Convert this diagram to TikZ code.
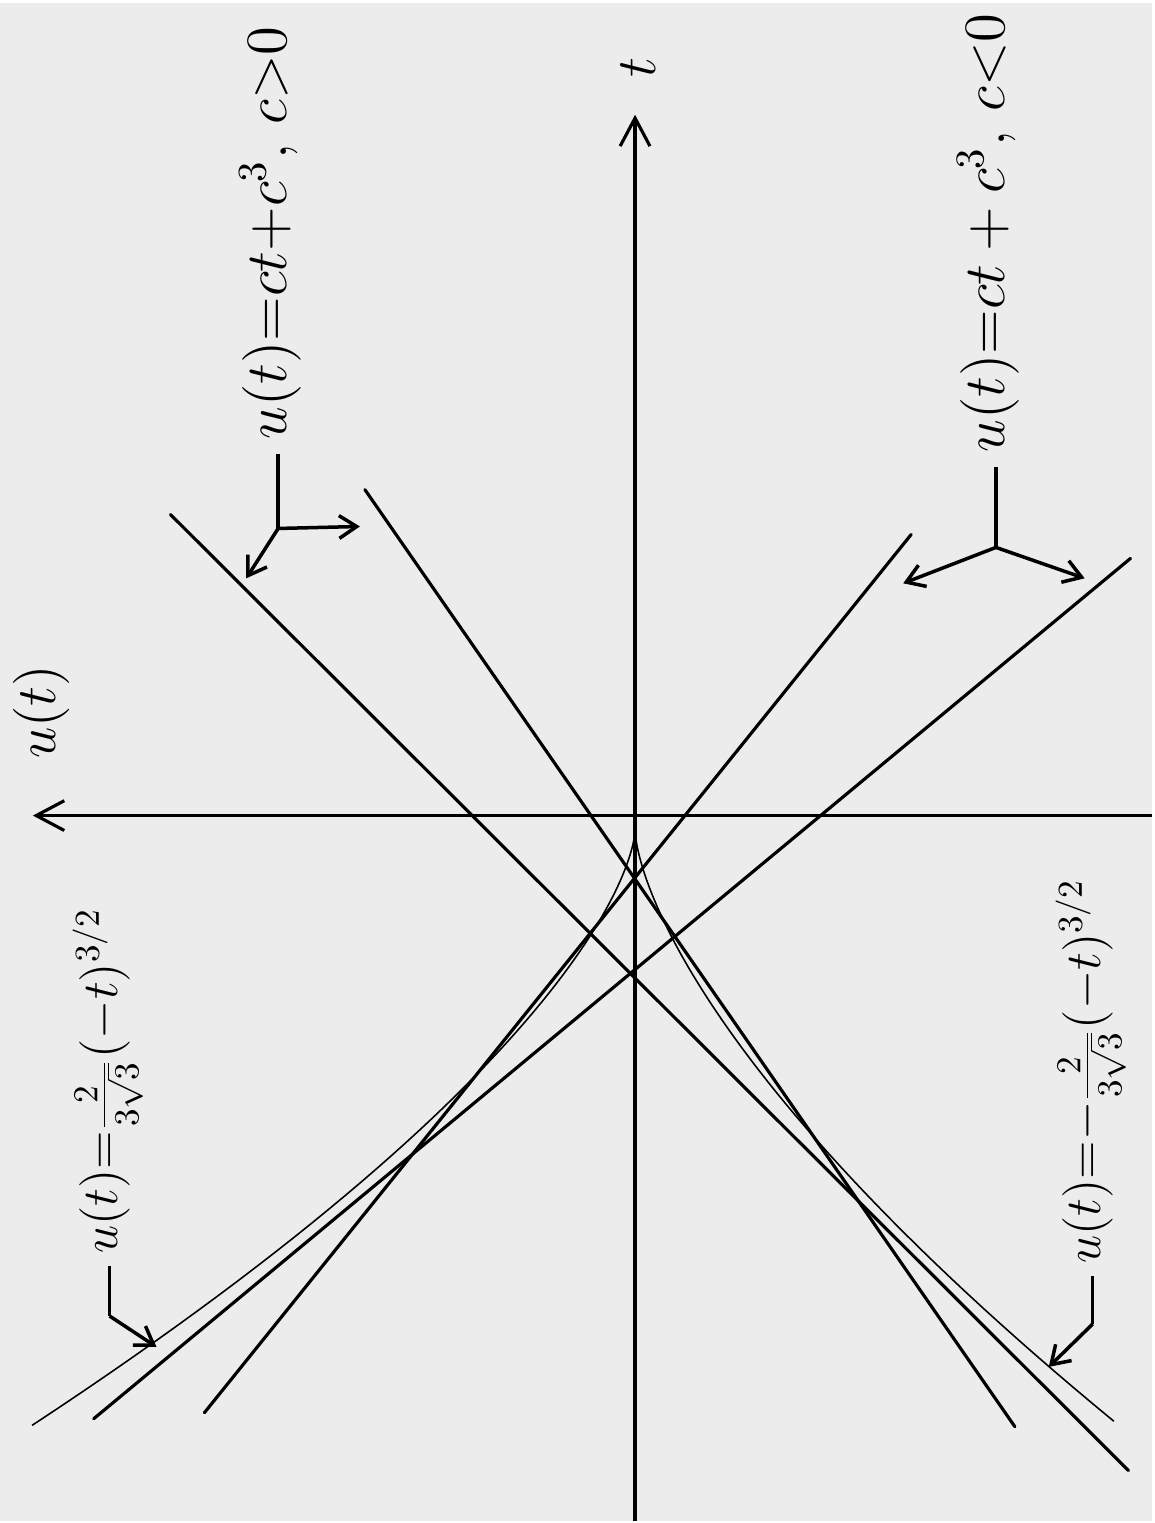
\documentclass[tikz,border=0pt]{standalone}
\usepackage{tkz-euclide}
\usetikzlibrary{arrows.meta,calc}
\definecolor{PaperClr}{rgb}{0.925,0.925,0.925}
\tikzset{
  lbl/.style={rotate=90,font=\Large,scale=1.16},
  lbls/.style={rotate=90,font=\Large},
  axis/.style={line width=0.9pt,-{Straight Barb[length=8pt,width=8.5pt]}},
  lead/.style={line width=1pt,-{Straight Barb[length=5pt,width=6.5pt]}},
  envl/.style={line width=0.45pt},
}

\begin{document}
\begin{tikzpicture}
\fill[PaperClr] (-6.37,-6.93) rectangle (5.19,8.30);
\tkzSetUpLine[line width=0.9pt,color=black]

\tkzDefPoint(0,-6.93){Tb}
\tkzDefPoint(0,7.18){Tt}
\tkzDefPoint(5.19,0.15){Ur}
\tkzDefPoint(-6.04,0.15){Ul}

\draw[axis] (Tb) -- (Tt);
\draw[axis] (Ur) -- (Ul);
\node[lbl,scale=0.96] (t) at (0.03,7.65) {$t$};
\node[lbl,scale=0.96] (u) at (-5.95,1.19) {$u(t)$};

\tkzDefPoint(-4.66,3.17){A1}
\tkzDefPoint(4.95,-6.42){A2}
\tkzDefPoint(-2.71,3.42){B1}
\tkzDefPoint(3.81,-5.98){B2}
\tkzDefPoint(2.77,2.97){C1}
\tkzDefPoint(-4.32,-5.84){C2}
\tkzDefPoint(4.97,2.73){D1}
\tkzDefPoint(-5.43,-5.90){D2}
\tkzDrawSegments(A1,A2 B1,B2 C1,C2 D1,D2)

\draw[envl] plot[domain=0:2.435,samples=70] ({0.333*\x*\x*\x},{-\x*\x});
\draw[envl] plot[domain=0:2.443,samples=70] ({-0.415*\x*\x*\x},{-\x*\x});

\tkzDefPoint(-3.58,3.03){J}
\begin{scope}[shift=(J)]
\tkzDefPoint(0,0.75){Jt}
\tkzDefPoint(0.82,0.02){Jr}
\tkzDefPoint(-0.32,-0.50){Jl}
\end{scope}
\node[lbl,anchor=mid west] (cpos) at (Jt) {$u(t){=}ct{+}c^3,\,c{>}0$};
\draw[line width=1pt] (cpos.mid west) -- (J);
\draw[lead] (J) -- (Jr);
\draw[lead] (J) -- (Jl);

\tkzDefPoint(3.62,2.84){K}
\begin{scope}[shift=(K)]
\tkzDefPoint(0,0.81){Kt}
\tkzDefPoint(-0.93,-0.36){Kl}
\tkzDefPoint(0.89,-0.31){Kr}
\end{scope}
\node[lbl,anchor=mid west] (cneg) at (Kt) {$u(t){=}ct+c^3,\,c{<}0$};
\draw[line width=1pt] (cneg.mid west) -- (K);
\draw[lead] (K) -- (Kl);
\draw[lead] (K) -- (Kr);

\tkzDefPoint(-5.27,-4.87){L}
\begin{scope}[shift=(L)]
\tkzDefPoint(0,0.50){Lt}
\tkzDefPoint(0.47,-0.31){Lr}
\end{scope}
\node[lbls,anchor=mid west] (epos) at (Lt) {$u(t){=}\frac{2}{3\sqrt{3}}(-t)^{3/2}$};
\draw[line width=1pt] (epos.mid west) -- (L);
\draw[lead] (L) -- (Lr);

\tkzDefPoint(4.59,-4.95){M}
\begin{scope}[shift=(M)]
\tkzDefPoint(0,0.48){Mt}
\tkzDefPoint(-0.44,-0.43){Ml}
\end{scope}
\node[lbls,anchor=mid west] (eneg) at (Mt) {$u(t){=}{-}\frac{2}{3\sqrt{3}}(-t)^{3/2}$};
\draw[line width=1pt] (eneg.mid west) -- (M);
\draw[lead] (M) -- (Ml);

\end{tikzpicture}
\end{document}
